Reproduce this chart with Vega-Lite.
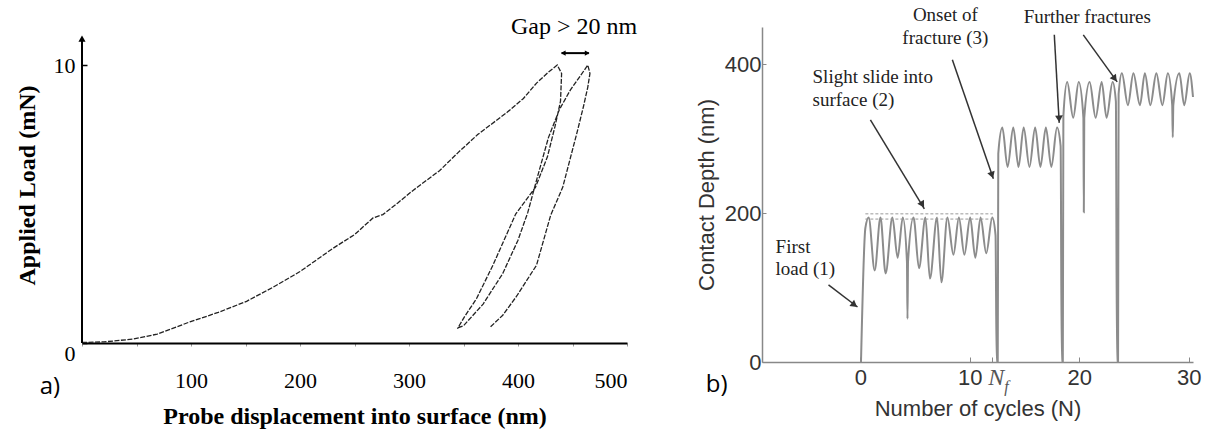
{
  "$schema": "https://vega.github.io/schema/vega-lite/v6.json",
  "autosize": {"type": "none"},
  "padding": {"left": 82, "top": 27, "right": 1126, "bottom": 403},
  "background": "white",
  "bounds": "flush",
  "spacing": 135,
  "config": {"view": {"stroke": null}, "axis": {"grid": false}},
  "hconcat": [
    {
      "width": 545,
      "height": 316,
      "layer": [
        {
          "data": {"values": [
            {"x": 0, "y": 0.02, "o": 1}, {"x": 20, "y": 0.04, "o": 2}, {"x": 47, "y": 0.14, "o": 3},
            {"x": 69, "y": 0.32, "o": 4}, {"x": 99, "y": 0.76, "o": 5}, {"x": 125, "y": 1.1, "o": 6},
            {"x": 151, "y": 1.5, "o": 7}, {"x": 175, "y": 2.0, "o": 8}, {"x": 200, "y": 2.57, "o": 9},
            {"x": 230, "y": 3.4, "o": 10}, {"x": 250, "y": 3.9, "o": 11}, {"x": 267, "y": 4.5, "o": 12},
            {"x": 276, "y": 4.62, "o": 13}, {"x": 290, "y": 5.05, "o": 14}, {"x": 304, "y": 5.5, "o": 15},
            {"x": 328, "y": 6.2, "o": 16}, {"x": 345, "y": 6.85, "o": 17}, {"x": 363, "y": 7.5, "o": 18},
            {"x": 390, "y": 8.3, "o": 19}, {"x": 405, "y": 8.8, "o": 20}, {"x": 417, "y": 9.35, "o": 21},
            {"x": 428, "y": 9.75, "o": 22}, {"x": 436, "y": 10.0, "o": 23},
            {"x": 440, "y": 9.7, "o": 24}, {"x": 439, "y": 8.7, "o": 25}, {"x": 434, "y": 7.8, "o": 26},
            {"x": 427, "y": 6.7, "o": 27}, {"x": 416, "y": 5.6, "o": 28}, {"x": 398, "y": 4.65, "o": 29},
            {"x": 377, "y": 2.8, "o": 30}, {"x": 362, "y": 1.6, "o": 31}, {"x": 351, "y": 0.95, "o": 32},
            {"x": 345, "y": 0.55, "o": 33},
            {"x": 350, "y": 0.62, "o": 34}, {"x": 368, "y": 1.4, "o": 35}, {"x": 386, "y": 2.5, "o": 36},
            {"x": 400, "y": 3.7, "o": 37}, {"x": 409, "y": 4.7, "o": 38}, {"x": 418, "y": 6.0, "o": 39},
            {"x": 428, "y": 7.4, "o": 40}, {"x": 438, "y": 8.4, "o": 41}, {"x": 448, "y": 9.1, "o": 42},
            {"x": 457, "y": 9.6, "o": 43}, {"x": 464, "y": 10.0, "o": 44},
            {"x": 466, "y": 9.7, "o": 45}, {"x": 464, "y": 9.2, "o": 46}, {"x": 460, "y": 8.5, "o": 47},
            {"x": 454, "y": 7.55, "o": 48}, {"x": 447, "y": 6.5, "o": 49}, {"x": 441, "y": 5.6, "o": 50},
            {"x": 430, "y": 4.6, "o": 51}, {"x": 417, "y": 2.8, "o": 52}, {"x": 399, "y": 1.7, "o": 53},
            {"x": 386, "y": 1.0, "o": 54}, {"x": 374, "y": 0.55, "o": 55}
          ]},
          "mark": {"type": "line", "color": "#222", "strokeWidth": 1.3, "strokeDash": [5, 1.5]},
          "encoding": {
            "x": {"field": "x", "type": "quantitative",
              "scale": {"domain": [0, 500], "nice": false, "zero": false},
              "axis": {"title": "Probe displacement into surface (nm)",
                "values": [0, 50, 100, 150, 200, 250, 300, 350, 400, 450, 500],
                "labelExpr": "datum.value > 0 && datum.value % 100 === 0 ? datum.label : ''",
                "domainColor": "#000", "domainWidth": 2, "tickColor": "#999", "tickSize": 3,
                "labelFont": "Liberation Serif", "labelFontSize": 22, "labelColor": "#000", "labelPadding": 24,
                "titleFont": "Liberation Serif", "titleFontSize": 24, "titleFontWeight": "bold", "titleColor": "#000", "titlePadding": 13}},
            "y": {"field": "y", "type": "quantitative",
              "scale": {"domain": [0, 11.37], "nice": false, "zero": false},
              "axis": {"title": "Applied Load (mN)", "values": [0, 10], "domain": false,
                "tickColor": "#000", "tickSize": -5, "tickWidth": 1.5,
                "labelBaseline": {"condition": {"test": "datum.value === 0", "value": "top"}, "value": "middle"},
                "labelFont": "Liberation Serif", "labelFontSize": 22, "labelColor": "#000", "labelPadding": 12,
                "titleFont": "Liberation Serif", "titleFontSize": 24, "titleFontWeight": "bold", "titleColor": "#000", "titlePadding": 14}},
            "order": {"field": "o", "type": "quantitative"}
          }
        },
        {
          "data": {"values": [{}]},
          "mark": {"type": "rule", "color": "#000", "strokeWidth": 2},
          "encoding": {"x": {"datum": 0, "type": "quantitative"}, "y": {"datum": 0, "type": "quantitative"}, "y2": {"datum": 10.9}}
        },
        {
          "data": {"values": [{}]},
          "mark": {"type": "point", "shape": "triangle-up", "filled": true, "color": "#000", "size": 50, "opacity": 1},
          "encoding": {"x": {"datum": 0, "type": "quantitative"}, "y": {"datum": 10.95, "type": "quantitative"}}
        },
        {
          "data": {"values": [{}]},
          "mark": {"type": "rule", "color": "#000", "strokeWidth": 2},
          "encoding": {"x": {"datum": 440, "type": "quantitative"}, "x2": {"datum": 465}, "y": {"datum": 10.43, "type": "quantitative"}}
        },
        {
          "data": {"values": [{}]},
          "mark": {"type": "point", "shape": "triangle-left", "filled": true, "color": "#000", "size": 30, "opacity": 1},
          "encoding": {"x": {"datum": 441.5, "type": "quantitative"}, "y": {"datum": 10.43, "type": "quantitative"}}
        },
        {
          "data": {"values": [{}]},
          "mark": {"type": "point", "shape": "triangle-right", "filled": true, "color": "#000", "size": 30, "opacity": 1},
          "encoding": {"x": {"datum": 463.5, "type": "quantitative"}, "y": {"datum": 10.43, "type": "quantitative"}}
        },
        {
          "data": {"values": [{}]},
          "mark": {"type": "text", "text": "Gap > 20 nm", "font": "Liberation Serif", "fontSize": 24, "color": "#000", "align": "center", "baseline": "middle"},
          "encoding": {"x": {"datum": 451.4, "type": "quantitative"}, "y": {"datum": 11.37, "type": "quantitative"}}
        },
        {
          "data": {"values": [{}]},
          "mark": {"type": "text", "text": "a)", "font": "Open Sans", "fontSize": 24, "color": "#000", "align": "center", "baseline": "middle"},
          "encoding": {"x": {"datum": -29.4, "type": "quantitative"}, "y": {"datum": -1.58, "type": "quantitative"}}
        }
      ]
    },
    {
      "width": 431,
      "height": 335,
      "layer": [
        {
          "data": {"values": [
            {"n": 0.05, "d": 0}, {"n": 0.45, "d": 180}, {"n": 0.75, "d": 194}, {"n": 1.3, "d": 123},
            {"n": 1.83, "d": 194}, {"n": 2.3, "d": 119}, {"n": 2.92, "d": 194}, {"n": 3.4, "d": 140},
            {"n": 3.87, "d": 194}, {"n": 4.25, "d": 135}, {"n": 4.3, "d": 58}, {"n": 4.35, "d": 135},
            {"n": 4.85, "d": 194}, {"n": 5.35, "d": 126}, {"n": 5.94, "d": 194}, {"n": 6.35, "d": 112},
            {"n": 7.0, "d": 194}, {"n": 7.4, "d": 107}, {"n": 7.95, "d": 194}, {"n": 8.5, "d": 144},
            {"n": 9.0, "d": 194}, {"n": 9.5, "d": 144}, {"n": 10.03, "d": 194}, {"n": 10.5, "d": 140},
            {"n": 10.98, "d": 194}, {"n": 11.5, "d": 146}, {"n": 12.05, "d": 194}, {"n": 12.35, "d": 170},
            {"n": 12.45, "d": 0}, {"n": 12.55, "d": 0}, {"n": 12.6, "d": 280}, {"n": 12.97, "d": 315},
            {"n": 13.45, "d": 262}, {"n": 13.97, "d": 315}, {"n": 14.45, "d": 262}, {"n": 14.92, "d": 315},
            {"n": 15.45, "d": 262}, {"n": 15.97, "d": 315}, {"n": 16.45, "d": 262}, {"n": 16.95, "d": 315},
            {"n": 17.45, "d": 262}, {"n": 17.97, "d": 315}, {"n": 18.3, "d": 290}, {"n": 18.4, "d": 0},
            {"n": 18.5, "d": 0}, {"n": 18.55, "d": 330}, {"n": 18.9, "d": 376}, {"n": 19.45, "d": 328},
            {"n": 19.95, "d": 376}, {"n": 20.38, "d": 328}, {"n": 20.42, "d": 201}, {"n": 20.46, "d": 328},
            {"n": 20.95, "d": 376}, {"n": 21.5, "d": 328}, {"n": 22.05, "d": 376}, {"n": 22.5, "d": 328},
            {"n": 23.05, "d": 376}, {"n": 23.35, "d": 350}, {"n": 23.45, "d": 0}, {"n": 23.55, "d": 0},
            {"n": 23.6, "d": 360}, {"n": 23.9, "d": 388}, {"n": 24.45, "d": 345}, {"n": 24.95, "d": 388},
            {"n": 25.55, "d": 345}, {"n": 26.0, "d": 388}, {"n": 26.5, "d": 345}, {"n": 27.05, "d": 388},
            {"n": 27.6, "d": 345}, {"n": 28.1, "d": 388}, {"n": 28.5, "d": 345}, {"n": 28.55, "d": 302},
            {"n": 28.6, "d": 345}, {"n": 29.15, "d": 388}, {"n": 29.6, "d": 345}, {"n": 30.1, "d": 388},
            {"n": 30.4, "d": 356}
          ]},
          "mark": {"type": "line", "color": "#8c8c8c", "strokeWidth": 2, "interpolate": "monotone"},
          "encoding": {
            "x": {"field": "n", "type": "quantitative",
              "scale": {"domain": [-9, 30.4], "nice": false, "zero": false},
              "axis": {"title": "Number of cycles (N)", "values": [0, 10, 12, 20, 30],
                "labelExpr": "datum.value === 12 ? '' : datum.label",
                "domainColor": "#888", "domainWidth": 1.5, "tickColor": "#888", "tickSize": -5,
                "labelFont": "Liberation Sans", "labelFontSize": 22, "labelColor": "#333", "labelPadding": 10,
                "titleFont": "Liberation Sans", "titleFontSize": 22, "titleFontWeight": "normal", "titleColor": "#333", "titlePadding": 10}},
            "y": {"field": "d", "type": "quantitative",
              "scale": {"domain": [0, 450], "nice": false, "zero": false},
              "axis": {"title": "Contact Depth (nm)", "values": [0, 200, 400],
                "domainColor": "#888", "domainWidth": 1.5, "tickColor": "#888", "tickSize": -4,
                "labelFont": "Liberation Sans", "labelFontSize": 22, "labelColor": "#333", "labelPadding": 5,
                "titleFont": "Liberation Sans", "titleFontSize": 22, "titleFontWeight": "normal", "titleColor": "#333", "titlePadding": 6}}
          }
        },
        {
          "data": {"values": [{}]},
          "mark": {"type": "rule", "color": "#999", "strokeWidth": 1, "strokeDash": [3, 2]},
          "encoding": {"x": {"datum": 0.45, "type": "quantitative"}, "x2": {"datum": 12.1}, "y": {"datum": 199, "type": "quantitative"}}
        },
        {
          "data": {"values": [{}]},
          "mark": {"type": "rule", "color": "#999", "strokeWidth": 1, "strokeDash": [3, 2]},
          "encoding": {"x": {"datum": 0.45, "type": "quantitative"}, "x2": {"datum": 12.1}, "y": {"datum": 192, "type": "quantitative"}}
        },
        {
          "data": {"values": [
            {"x1": -2.92, "y1": 103.5, "x2": -0.27, "y2": 73.9},
            {"x1": 0.91, "y1": 325.3, "x2": 5.84, "y2": 205.6},
            {"x1": 8.4, "y1": 405.9, "x2": 12.15, "y2": 246.0},
            {"x1": 17.72, "y1": 439.5, "x2": 18.17, "y2": 321.2},
            {"x1": 20.37, "y1": 439.5, "x2": 23.47, "y2": 376.3}
          ]},
          "mark": {"type": "rule", "color": "#333", "strokeWidth": 1.5},
          "encoding": {
            "x": {"field": "x1", "type": "quantitative"}, "y": {"field": "y1", "type": "quantitative"},
            "x2": {"field": "x2"}, "y2": {"field": "y2"}
          }
        },
        {
          "data": {"values": [{}]},
          "mark": {"type": "point", "shape": "triangle-up", "filled": true, "color": "#333", "opacity": 1, "size": 60, "angle": 127},
          "encoding": {"x": {"datum": -0.55, "type": "quantitative"}, "y": {"datum": 76.6, "type": "quantitative"}}
        },
        {
          "data": {"values": [{}]},
          "mark": {"type": "point", "shape": "triangle-up", "filled": true, "color": "#333", "opacity": 1, "size": 60, "angle": 149},
          "encoding": {"x": {"datum": 5.66, "type": "quantitative"}, "y": {"datum": 211.3, "type": "quantitative"}}
        },
        {
          "data": {"values": [{}]},
          "mark": {"type": "point", "shape": "triangle-up", "filled": true, "color": "#333", "opacity": 1, "size": 60, "angle": 161},
          "encoding": {"x": {"datum": 12.03, "type": "quantitative"}, "y": {"datum": 251, "type": "quantitative"}}
        },
        {
          "data": {"values": [{}]},
          "mark": {"type": "point", "shape": "triangle-up", "filled": true, "color": "#333", "opacity": 1, "size": 60, "angle": 177},
          "encoding": {"x": {"datum": 18.16, "type": "quantitative"}, "y": {"datum": 326.6, "type": "quantitative"}}
        },
        {
          "data": {"values": [{}]},
          "mark": {"type": "point", "shape": "triangle-up", "filled": true, "color": "#333", "opacity": 1, "size": 60, "angle": 144},
          "encoding": {"x": {"datum": 23.25, "type": "quantitative"}, "y": {"datum": 380.6, "type": "quantitative"}}
        },
        {
          "data": {"values": [{}]},
          "mark": {"type": "text", "text": ["First", "load (1)"], "font": "Liberation Serif", "fontSize": 19, "lineHeight": 22, "color": "#222", "align": "left", "baseline": "middle"},
          "encoding": {"x": {"datum": -7.76, "type": "quantitative"}, "y": {"datum": 154.6, "type": "quantitative"}}
        },
        {
          "data": {"values": [{}]},
          "mark": {"type": "text", "text": ["Slight slide into", "surface (2)"], "font": "Liberation Serif", "fontSize": 19, "lineHeight": 23, "color": "#222", "align": "left", "baseline": "middle"},
          "encoding": {"x": {"datum": -4.38, "type": "quantitative"}, "y": {"datum": 383, "type": "quantitative"}}
        },
        {
          "data": {"values": [{}]},
          "mark": {"type": "text", "text": ["Onset of", "fracture (3)"], "font": "Liberation Serif", "fontSize": 19, "lineHeight": 23, "color": "#222", "align": "center", "baseline": "middle"},
          "encoding": {"x": {"datum": 7.76, "type": "quantitative"}, "y": {"datum": 466, "type": "quantitative"}}
        },
        {
          "data": {"values": [{}]},
          "mark": {"type": "text", "text": "Further fractures", "font": "Liberation Serif", "fontSize": 19, "color": "#222", "align": "center", "baseline": "middle"},
          "encoding": {"x": {"datum": 20.73, "type": "quantitative"}, "y": {"datum": 463.7, "type": "quantitative"}}
        },
        {
          "data": {"values": [{}]},
          "mark": {"type": "text", "text": "N", "font": "Liberation Serif", "fontStyle": "italic", "fontSize": 24, "color": "#555", "align": "center", "baseline": "middle"},
          "encoding": {"x": {"datum": 12.42, "type": "quantitative"}, "y": {"datum": -21.5, "type": "quantitative"}}
        },
        {
          "data": {"values": [{}]},
          "mark": {"type": "text", "text": "f", "font": "Liberation Serif", "fontStyle": "italic", "fontSize": 16, "color": "#555", "align": "center", "baseline": "middle"},
          "encoding": {"x": {"datum": 13.35, "type": "quantitative"}, "y": {"datum": -33, "type": "quantitative"}}
        },
        {
          "data": {"values": [{}]},
          "mark": {"type": "text", "text": "b)", "font": "Open Sans", "fontSize": 24, "color": "#000", "align": "center", "baseline": "middle"},
          "encoding": {"x": {"datum": -13.15, "type": "quantitative"}, "y": {"datum": -30.9, "type": "quantitative"}}
        }
      ]
    }
  ]
}
